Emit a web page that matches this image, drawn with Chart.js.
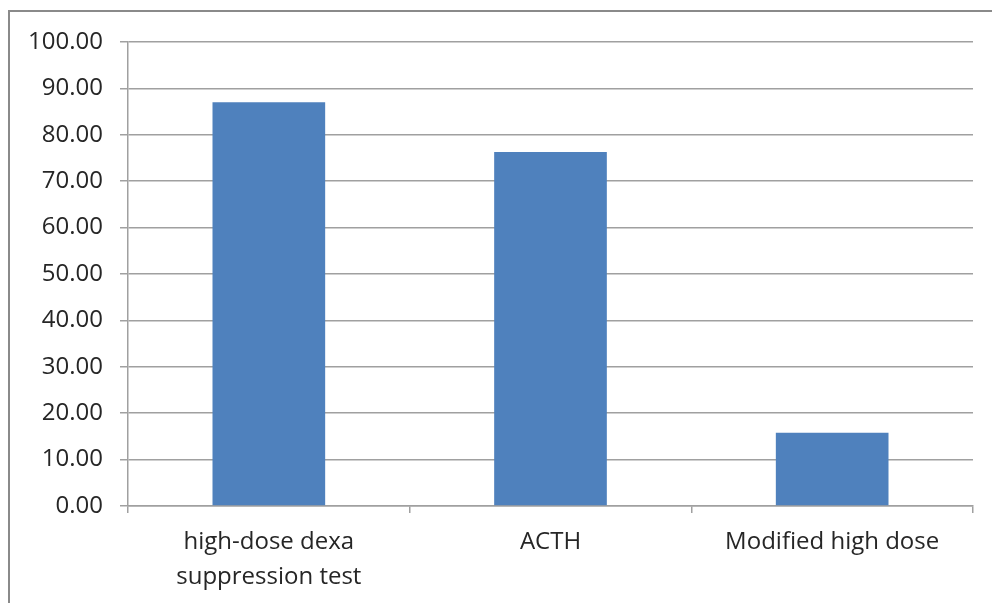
<!DOCTYPE html>
<html>
<head>
<meta charset="utf-8">
<script src="https://cdn.jsdelivr.net/npm/chart.js@4.4.1/dist/chart.umd.min.js"></script>
<style>
  html, body { margin: 0; padding: 0; background: #fff; }
  #wrap { position: relative; width: 992px; height: 603px; overflow: hidden; }
  #frame { position: absolute; left: 8px; top: 10px; width: 1000px; height: 700px;
           border-left: 2px solid #8a8a8a; border-top: 2px solid #8a8a8a; }
  canvas { position: absolute; left: 0; top: 0; }
</style>
</head>
<body>
<div id="wrap">
  <div id="frame"></div>
  <canvas id="chart" width="992" height="603"></canvas>
</div>
<script>
  // data
  var categories = [['high-dose dexa', 'suppression test'], 'ACTH', 'Modified high dose'];
  var values = [87.0, 76.3, 15.8];

  var axisColor = '#a0a0a0';
  var textColor = '#262626';
  var fontFamily = "'Open Sans', 'Noto Sans', sans-serif";

  var ctx = document.getElementById('chart').getContext('2d');
  var chart = new Chart(ctx, {
    type: 'bar',
    data: {
      labels: categories,
      datasets: [{
        data: values,
        backgroundColor: '#4f81bd',
        borderWidth: 0,
        categoryPercentage: 1,
        barPercentage: 0.4
      }]
    },
    options: {
      responsive: false,
      animation: false,
      layout: { padding: { left: 0, top: 42, right: 19, bottom: 0 } },
      plugins: { legend: { display: false }, tooltip: { enabled: false } },
      scales: {
        x: {
          offset: true,
          grid: {
            offset: true,
            drawOnChartArea: false,
            drawTicks: true,
            tickLength: 7,
            color: axisColor,
            lineWidth: 1.5
          },
          border: { color: axisColor, width: 1.5 },
          ticks: {
            color: textColor,
            font: { family: fontFamily, size: 24, lineHeight: 1.45 },
            padding: 12,
            maxRotation: 0,
            autoSkip: false
          },
          afterFit: function (scale) { scale.height = 97; }
        },
        y: {
          min: 0,
          max: 100,
          grid: { color: axisColor, lineWidth: 1.5, tickLength: 8 },
          border: { color: axisColor, width: 1.5 },
          ticks: {
            stepSize: 10,
            color: textColor,
            font: { family: fontFamily, size: 24 },
            padding: 17,
            callback: function (v) { return v.toFixed(2); }
          },
          afterFit: function (scale) { scale.width = 128; }
        }
      }
    }
  });
</script>
</body>
</html>
